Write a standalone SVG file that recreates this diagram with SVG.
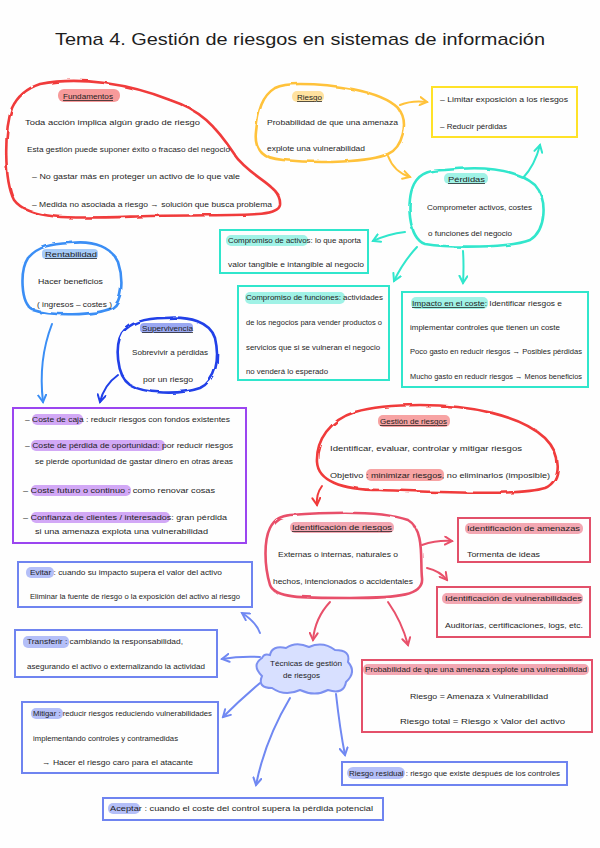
<svg xmlns="http://www.w3.org/2000/svg" width="600" height="848" viewBox="0 0 600 848">
<style>
.t{font-family:"Liberation Sans",Arial,sans-serif;font-size:7.5px;fill:#1e1e1e}
.title{font-size:17px}
.u{text-decoration:underline}
.blob{fill:none;stroke-width:2.6;stroke-linejoin:round}
.box{fill:none;stroke-width:2}
.c{fill:none;stroke-width:2;stroke-linecap:round}
</style>
<defs>
<filter id="rough" x="-5%" y="-5%" width="110%" height="110%"><feTurbulence type="fractalNoise" baseFrequency="0.06" numOctaves="2" seed="3"/><feDisplacementMap in="SourceGraphic" scale="3"/></filter>
<marker id="mY" markerUnits="userSpaceOnUse" markerWidth="10" markerHeight="10" refX="8" refY="5" orient="auto"><path d="M1,1 L8,5 L1,9" fill="none" stroke="#FFC23A" stroke-width="2" stroke-linecap="round"/></marker>
<marker id="mC" markerUnits="userSpaceOnUse" markerWidth="10" markerHeight="10" refX="8" refY="5" orient="auto"><path d="M1,1 L8,5 L1,9" fill="none" stroke="#30E6CC" stroke-width="2" stroke-linecap="round"/></marker>
<marker id="mB" markerUnits="userSpaceOnUse" markerWidth="10" markerHeight="10" refX="8" refY="5" orient="auto"><path d="M1,1 L8,5 L1,9" fill="none" stroke="#3A8EF5" stroke-width="2" stroke-linecap="round"/></marker>
<marker id="mD" markerUnits="userSpaceOnUse" markerWidth="10" markerHeight="10" refX="8" refY="5" orient="auto"><path d="M1,1 L8,5 L1,9" fill="none" stroke="#2040E8" stroke-width="2" stroke-linecap="round"/></marker>
<marker id="mR" markerUnits="userSpaceOnUse" markerWidth="10" markerHeight="10" refX="8" refY="5" orient="auto"><path d="M1,1 L8,5 L1,9" fill="none" stroke="#F03A3A" stroke-width="2" stroke-linecap="round"/></marker>
<marker id="mP" markerUnits="userSpaceOnUse" markerWidth="10" markerHeight="10" refX="8" refY="5" orient="auto"><path d="M1,1 L8,5 L1,9" fill="none" stroke="#E8506A" stroke-width="2" stroke-linecap="round"/></marker>
<marker id="mV" markerUnits="userSpaceOnUse" markerWidth="10" markerHeight="10" refX="8" refY="5" orient="auto"><path d="M1,1 L8,5 L1,9" fill="none" stroke="#7088F2" stroke-width="2" stroke-linecap="round"/></marker>
</defs>
<rect width="600" height="848" fill="#fefefe"/>
<text class="t title" x="55" y="45" textLength="490" lengthAdjust="spacingAndGlyphs">Tema 4.  Gestión de riesgos en sistemas de información</text>

<g id="connectors">
<path class="c" stroke="#FFC23A" d="M400 105 Q412 100 427 102" marker-end="url(#mY)"/>
<path class="c" stroke="#FFC23A" d="M388 156 Q394 172 410 177" marker-end="url(#mY)"/>
<path class="c" stroke="#30E6CC" d="M523 178 Q535 165 540 145" marker-end="url(#mC)"/>
<path class="c" stroke="#30E6CC" d="M405 232 Q388 234 373 241" marker-end="url(#mC)"/>
<path class="c" stroke="#30E6CC" d="M417 247 Q403 262 394 281" marker-end="url(#mC)"/>
<path class="c" stroke="#30E6CC" d="M463 251 Q464 266 463 283" marker-end="url(#mC)"/>
<path class="c" stroke="#3A8EF5" d="M52 324 Q38 360 43 402" marker-end="url(#mB)"/>
<path class="c" stroke="#2040E8" d="M118 375 Q104 385 100 402" marker-end="url(#mD)"/>
<path class="c" stroke="#F03A3A" d="M322 486 Q316 494 317 505" marker-end="url(#mR)"/>
<path class="c" stroke="#E8506A" d="M422 545 Q437 540 452 541" marker-end="url(#mP)"/>
<path class="c" stroke="#E8506A" d="M427 568 Q440 571 447 580" marker-end="url(#mP)"/>
<path class="c" stroke="#E8506A" d="M330 602 Q315 618 313 640" marker-end="url(#mP)"/>
<path class="c" stroke="#E8506A" d="M388 602 Q402 622 408 645" marker-end="url(#mP)"/>
<path class="c" stroke="#7088F2" d="M260 633 Q256 622 242 613" marker-end="url(#mV)"/>
<path class="c" stroke="#7088F2" d="M260 657 Q240 656 222 659" marker-end="url(#mV)"/>
<path class="c" stroke="#7088F2" d="M260 683 Q240 700 223 717" marker-end="url(#mV)"/>
<path class="c" stroke="#7088F2" d="M290 698 Q265 740 256 785" marker-end="url(#mV)"/>
<path class="c" stroke="#7088F2" d="M336 694 Q340 730 345 755" marker-end="url(#mV)"/>
</g>

<g id="fundamentos">
<path class="blob" stroke="#F03A3A" filter="url(#rough)" d="M40 84 C80 76 130 84 170 100 C200 110 215 125 235 155 C250 178 282 185 280 205 C278 218 240 214 150 216 C80 218 30 222 14 200 C4 180 4 130 12 108 C18 95 28 88 40 84 Z"/>
<rect x="58" y="89" width="62" height="13" rx="6" fill="#F79A9A"/>
<text class="t u" x="63" y="99" textLength="50" lengthAdjust="spacingAndGlyphs">Fundamentos</text>
<text class="t" x="25" y="125" textLength="175" lengthAdjust="spacingAndGlyphs">Toda acción implica algún grado de riesgo</text>
<text class="t" x="27" y="152" textLength="203" lengthAdjust="spacingAndGlyphs">Esta gestión puede suponer éxito o fracaso del negocio</text>
<text class="t" x="32" y="179" textLength="208" lengthAdjust="spacingAndGlyphs">–  No gastar más en proteger un activo de lo que vale</text>
<text class="t" x="32" y="207" textLength="240" lengthAdjust="spacingAndGlyphs">–  Medida no asociada a riesgo → solución que busca problema</text>
</g>

<g id="riesgo">
<path class="blob" stroke="#FFC23A" filter="url(#rough)" d="M300 84 C330 84 380 90 398 108 C410 122 402 148 388 154 C370 162 320 164 283 160 C262 158 254 150 256 132 C258 110 262 96 275 88 C283 84 292 84 300 84 Z"/>
<rect x="292" y="91" width="32" height="11" rx="5" fill="#FFE2A0"/>
<text class="t u" x="297" y="100" textLength="25" lengthAdjust="spacingAndGlyphs">Riesgo</text>
<text class="t" x="267" y="125" textLength="131" lengthAdjust="spacingAndGlyphs">Probabilidad de que una amenaza</text>
<text class="t" x="267" y="151" textLength="98" lengthAdjust="spacingAndGlyphs">explote una vulnerabilidad</text>
</g>

<g id="objetivos">
<rect class="box" x="432" y="87" width="145" height="50" stroke="#FFE228"/>
<text class="t" x="440" y="102" textLength="128" lengthAdjust="spacingAndGlyphs">–  Limitar exposición a los riesgos</text>
<text class="t" x="440" y="129" textLength="67" lengthAdjust="spacingAndGlyphs">–  Reducir pérdidas</text>
</g>

<g id="perdidas">
<path class="blob" stroke="#30E6CC" filter="url(#rough)" d="M445 170 C480 166 515 168 535 185 C548 200 546 230 530 240 C510 248 450 248 425 244 C408 238 406 200 414 184 C420 172 432 170 445 170 Z"/>
<rect x="444" y="173" width="44" height="11" rx="5" fill="#A0F2E6"/>
<text class="t u" x="448" y="182" textLength="37" lengthAdjust="spacingAndGlyphs">Pérdidas</text>
<text class="t" x="427" y="210" textLength="105" lengthAdjust="spacingAndGlyphs">Comprometer activos, costes</text>
<text class="t" x="428" y="236" textLength="84" lengthAdjust="spacingAndGlyphs">o funciones del negocio</text>
</g>

<g id="compromiso-activos">
<rect class="box" x="220" y="230" width="148" height="43" stroke="#30E6CC"/>
<rect x="226" y="235" width="82" height="11" rx="5" fill="#A0F2E6"/>
<text class="t" x="228" y="243" textLength="133" lengthAdjust="spacingAndGlyphs">Compromiso de activos: lo que aporta</text>
<text class="t" x="228" y="267" textLength="136" lengthAdjust="spacingAndGlyphs">valor tangible e intangible al negocio</text>
</g>

<g id="compromiso-funciones">
<rect class="box" x="238" y="286" width="151" height="94" stroke="#30E6CC"/>
<rect x="245" y="292" width="100" height="12" rx="5" fill="#A0F2E6"/>
<text class="t" x="246" y="300" textLength="137" lengthAdjust="spacingAndGlyphs">Compromiso de funciones: actividades</text>
<text class="t" x="246" y="325" textLength="136" lengthAdjust="spacingAndGlyphs">de los negocios para vender productos o</text>
<text class="t" x="246" y="350" textLength="134" lengthAdjust="spacingAndGlyphs">servicios que si se vulneran el negocio</text>
<text class="t" x="246" y="374" textLength="82" lengthAdjust="spacingAndGlyphs">no venderá lo esperado</text>
</g>

<g id="impacto-coste">
<rect class="box" x="402" y="292" width="186" height="95" stroke="#30E6CC"/>
<rect x="411" y="297" width="77" height="12" rx="5" fill="#A0F2E6"/>
<text class="t" x="412" y="306" textLength="150" lengthAdjust="spacingAndGlyphs"><tspan class="u">Impacto en el coste</tspan>: Identificar riesgos e</text>
<text class="t" x="410" y="330" textLength="150" lengthAdjust="spacingAndGlyphs">implementar controles que tienen un coste</text>
<text class="t" x="410" y="354" textLength="172" lengthAdjust="spacingAndGlyphs">Poco gasto en reducir riesgos  →  Posibles pérdidas</text>
<text class="t" x="410" y="379" textLength="172" lengthAdjust="spacingAndGlyphs">Mucho gasto en reducir riesgos  →  Menos beneficios</text>
</g>

<g id="rentabilidad">
<path class="blob" stroke="#3A8EF5" filter="url(#rough)" d="M70 243 C95 240 112 248 118 262 C124 280 122 302 112 308 C95 316 50 316 33 310 C20 303 20 270 28 258 C38 246 52 244 70 243 Z"/>
<rect x="42" y="249" width="56" height="10" rx="4" fill="#A6CBF8"/>
<text class="t u" x="45" y="257" textLength="52" lengthAdjust="spacingAndGlyphs">Rentabilidad</text>
<text class="t" x="38" y="284" textLength="65" lengthAdjust="spacingAndGlyphs">Hacer beneficios</text>
<text class="t" x="37" y="307" textLength="75" lengthAdjust="spacingAndGlyphs">( ingresos  –  costes )</text>
</g>

<g id="supervivencia">
<path class="blob" stroke="#2040E8" filter="url(#rough)" d="M165 318 C190 316 210 322 215 338 C220 360 216 380 200 388 C180 395 145 394 130 385 C116 375 115 345 122 333 C132 320 150 318 165 318 Z"/>
<rect x="140" y="323" width="53" height="10" rx="4" fill="#9AA8F2"/>
<text class="t u" x="142" y="331" textLength="51" lengthAdjust="spacingAndGlyphs">Supervivencia</text>
<text class="t" x="132" y="355" textLength="76" lengthAdjust="spacingAndGlyphs">Sobrevivir a pérdidas</text>
<text class="t" x="143" y="382" textLength="50" lengthAdjust="spacingAndGlyphs">por un riesgo</text>
</g>

<g id="costes">
<rect class="box" x="13" y="408" width="233" height="135" stroke="#9B45F0"/>
<rect x="32" y="414" width="51" height="11" rx="5" fill="#D2A8F6"/>
<rect x="31" y="440" width="134" height="11" rx="5" fill="#D2A8F6"/>
<rect x="31" y="485" width="100" height="11" rx="5" fill="#D2A8F6"/>
<rect x="31" y="512" width="139" height="11" rx="5" fill="#D2A8F6"/>
<text class="t" x="25" y="422" textLength="205" lengthAdjust="spacingAndGlyphs">–  Coste de caja : reducir riesgos con fondos existentes</text>
<text class="t" x="25" y="448" textLength="208" lengthAdjust="spacingAndGlyphs">–  Coste de pérdida de oportunidad: por reducir riesgos</text>
<text class="t" x="35" y="464" textLength="198" lengthAdjust="spacingAndGlyphs">se pierde oportunidad de gastar dinero en otras áreas</text>
<text class="t" x="23" y="493" textLength="192" lengthAdjust="spacingAndGlyphs">–  Coste futuro o continuo : como renovar cosas</text>
<text class="t" x="23" y="520" textLength="204" lengthAdjust="spacingAndGlyphs">–  Confianza de clientes / interesados: gran pérdida</text>
<text class="t" x="35" y="534" textLength="173" lengthAdjust="spacingAndGlyphs">si una amenaza explota una vulnerabilidad</text>
</g>

<g id="gestion-riesgos">
<path class="blob" stroke="#F03A3A" filter="url(#rough)" d="M420 405 C470 405 520 415 545 438 C562 455 562 480 545 488 C520 496 440 492 380 490 C340 490 318 480 317 462 C316 440 330 420 355 412 C375 406 400 405 420 405 Z"/>
<rect x="378" y="415" width="72" height="12" rx="5" fill="#F7A3A3"/>
<rect x="366" y="469" width="78" height="12" rx="5" fill="#F7A3A3"/>
<text class="t u" x="380" y="424" textLength="67" lengthAdjust="spacingAndGlyphs">Gestión de riesgos</text>
<text class="t" x="330" y="451" textLength="192" lengthAdjust="spacingAndGlyphs">Identificar, evaluar, controlar y mitigar riesgos</text>
<text class="t" x="330" y="478" textLength="220" lengthAdjust="spacingAndGlyphs">Objetivo : minimizar riesgos, no eliminarlos (imposible)</text>
</g>

<g id="identificacion-riesgos">
<path class="blob" stroke="#E8506A" filter="url(#rough)" d="M290 515 C330 512 380 510 408 520 C425 530 420 560 422 578 C424 595 400 598 350 598 C300 598 275 598 270 585 C264 565 264 540 270 528 C275 518 282 516 290 515 Z"/>
<rect x="290" y="522" width="104" height="11" rx="5" fill="#F3A7B2"/>
<text class="t u" x="292" y="530" textLength="100" lengthAdjust="spacingAndGlyphs">Identificación de riesgos</text>
<text class="t" x="278" y="557" textLength="120" lengthAdjust="spacingAndGlyphs">Externas o internas, naturales o</text>
<text class="t" x="273" y="584" textLength="140" lengthAdjust="spacingAndGlyphs">hechos,  intencionados o accidentales</text>
</g>

<g id="identificacion-amenazas">
<rect class="box" x="458" y="518" width="132" height="44" stroke="#E2506A"/>
<rect x="465" y="523" width="118" height="11" rx="5" fill="#F3A7B2"/>
<text class="t" x="467" y="531" textLength="113" lengthAdjust="spacingAndGlyphs">Identificación de amenazas</text>
<text class="t" x="467" y="557" textLength="73" lengthAdjust="spacingAndGlyphs">Tormenta de ideas</text>
</g>

<g id="identificacion-vulnerabilidades">
<rect class="box" x="437" y="587" width="153" height="50" stroke="#E2506A"/>
<rect x="442" y="593" width="141" height="11" rx="5" fill="#F3A7B2"/>
<text class="t" x="445" y="601" textLength="137" lengthAdjust="spacingAndGlyphs">Identificación de vulnerabilidades</text>
<text class="t" x="445" y="628" textLength="138" lengthAdjust="spacingAndGlyphs">Auditorías, certificaciones, logs, etc.</text>
</g>

<g id="tecnicas">
<path fill="#D8E0FF" stroke="#7C90F0" stroke-width="2" d="M270 655 Q272 645 286 648 Q296 641 309 647 Q323 641 335 650 Q351 650 348 662 Q357 672 346 682 Q344 695 328 690 Q315 697 300 690 Q285 697 272 688 Q257 688 262 676 Q251 665 262 658 Q264 653 270 655 Z"/>
<text class="t" x="270" y="666" textLength="72" lengthAdjust="spacingAndGlyphs">Técnicas de gestión</text>
<text class="t" x="283" y="678" textLength="37" lengthAdjust="spacingAndGlyphs">de riesgos</text>
</g>

<g id="probabilidad">
<rect class="box" x="362" y="660" width="230" height="72" stroke="#E4506A"/>
<rect x="363" y="664" width="226" height="11" rx="5" fill="#F3A7B2"/>
<text class="t" x="365" y="672" textLength="222" lengthAdjust="spacingAndGlyphs">Probabilidad de que una amenaza explote una vulnerabilidad</text>
<text class="t" x="410" y="699" textLength="138" lengthAdjust="spacingAndGlyphs">Riesgo  =  Amenaza  x  Vulnerabilidad</text>
<text class="t" x="400" y="724" textLength="165" lengthAdjust="spacingAndGlyphs">Riesgo total  =  Riesgo  x  Valor del activo</text>
</g>

<g id="evitar">
<rect class="box" x="18" y="562" width="234" height="45" stroke="#6F84F0"/>
<rect x="26" y="567" width="28" height="11" rx="5" fill="#B4BFF8"/>
<text class="t" x="30" y="575" textLength="192" lengthAdjust="spacingAndGlyphs">Evitar : cuando su impacto supera el valor del activo</text>
<text class="t" x="30" y="599" textLength="210" lengthAdjust="spacingAndGlyphs">Eliminar la fuente de riesgo o la exposición del activo al riesgo</text>
</g>

<g id="transferir">
<rect class="box" x="15" y="630" width="202" height="47" stroke="#6F84F0"/>
<rect x="23" y="636" width="46" height="12" rx="5" fill="#B4BFF8"/>
<text class="t" x="27" y="644" textLength="156" lengthAdjust="spacingAndGlyphs">Transferir : cambiando la responsabilidad,</text>
<text class="t" x="27" y="669" textLength="178" lengthAdjust="spacingAndGlyphs">asegurando el activo o externalizando la actividad</text>
</g>

<g id="mitigar">
<rect class="box" x="22" y="702" width="196" height="71" stroke="#6F84F0"/>
<rect x="31" y="708" width="32" height="11" rx="5" fill="#B4BFF8"/>
<text class="t" x="33" y="716" textLength="179" lengthAdjust="spacingAndGlyphs">Mitigar : reducir riesgos reduciendo vulnerabilidades</text>
<text class="t" x="33" y="741" textLength="145" lengthAdjust="spacingAndGlyphs">implementando controles y contramedidas</text>
<text class="t" x="42" y="765" textLength="151" lengthAdjust="spacingAndGlyphs">→   Hacer el riesgo caro para el atacante</text>
</g>

<g id="riesgo-residual">
<rect class="box" x="342" y="762" width="225" height="23" stroke="#6F84F0"/>
<rect x="347" y="767" width="58" height="12" rx="6" fill="#B4BFF8"/>
<text class="t" x="349" y="776" textLength="211" lengthAdjust="spacingAndGlyphs">Riesgo residual : riesgo que existe después de los controles</text>
</g>

<g id="aceptar">
<rect class="box" x="103" y="798" width="280" height="22" stroke="#6F84F0"/>
<rect x="108" y="803" width="32" height="11" rx="5" fill="#B4BFF8"/>
<text class="t" x="110" y="811" textLength="263" lengthAdjust="spacingAndGlyphs">Aceptar : cuando el coste del control supera la pérdida potencial</text>
</g>
</svg>
